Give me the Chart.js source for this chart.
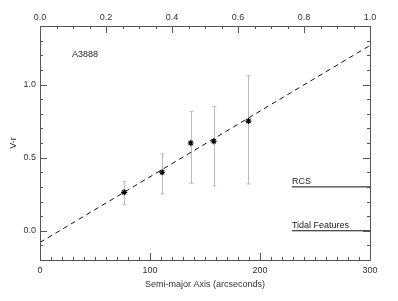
<!DOCTYPE html>
<html>
<head>
<meta charset="utf-8">
<script src="https://cdn.jsdelivr.net/npm/chart.js@4/dist/chart.umd.min.js"></script>
<style>
  html, body { margin: 0; padding: 0; background: #fff; }
  #wrap { width: 398px; height: 301px; }
</style>
</head>
<body>
<div id="wrap"><canvas id="chart"></canvas></div>
<script>
// semi-major axis (arcsec) and V-r colour
const radius = [76.5, 111, 137, 158, 189.5];
const colour = [0.263, 0.40, 0.60, 0.612, 0.75];
const errLow = [0.177, 0.252, 0.325, 0.306, 0.32];
const errHigh = [0.335, 0.526, 0.816, 0.85, 1.06];

// dashed fit line end points
const fitX = [0, 300];
const fitY = [-0.08, 1.267];

// marker lines at the right
const rcsX = [229, 300];
const rcsY = [0.3, 0.3];
const tidalX = [229, 300];
const tidalY = [0, 0];

const bottomTicks = [0, 100, 200, 300];
const topTicks = [0.0, 0.2, 0.4, 0.6, 0.8, 1.0];
const leftTicks = [0.0, 0.5, 1.0];

const pts = (xs, ys) => xs.map((x, i) => ({ x: x, y: ys[i] }));

const axisCol = '#555';
const textCol = '#333';
const FAMILY = '"Liberation Sans", Arial, sans-serif';

// error bars, inner tick marks and the little text labels
const extras = {
  id: 'extras',
  beforeDatasetsDraw(chart) {
    const { ctx } = chart;
    const x = chart.scales.x, y = chart.scales.y;
    ctx.save();
    ctx.strokeStyle = '#bbb';
    ctx.lineWidth = 1;
    radius.forEach((r, i) => {
      const px = Math.round(x.getPixelForValue(r)) + 0.5;
      const y1 = y.getPixelForValue(errLow[i]);
      const y2 = y.getPixelForValue(errHigh[i]);
      ctx.beginPath();
      ctx.moveTo(px, y1); ctx.lineTo(px, y2);
      ctx.moveTo(px - 2, y1); ctx.lineTo(px + 2, y1);
      ctx.moveTo(px - 2, y2); ctx.lineTo(px + 2, y2);
      ctx.stroke();
    });
    ctx.restore();
  },
  afterDraw(chart) {
    const { ctx, chartArea: a } = chart;
    const x = chart.scales.x, x2 = chart.scales.x2, y = chart.scales.y;
    ctx.save();
    ctx.strokeStyle = axisCol;
    ctx.lineWidth = 1;
    ctx.beginPath();
    // box
    ctx.rect(Math.round(a.left) + 0.5, Math.round(a.top) + 0.5,
             Math.round(a.right - a.left), Math.round(a.bottom - a.top));
    // bottom / top ticks
    for (let v = 0; v <= 300; v += 10) {
      const px = Math.round(x.getPixelForValue(v)) + 0.5;
      const len = v % 100 === 0 ? 7 : 3;
      ctx.moveTo(px, a.bottom); ctx.lineTo(px, a.bottom - len);
    }
    for (let k = 0; k <= 20; k++) {
      const v = k * 0.05;
      const px = Math.round(x2.getPixelForValue(v)) + 0.5;
      const len = k % 4 === 0 ? 7 : 3;
      ctx.moveTo(px, a.top); ctx.lineTo(px, a.top + len);
    }
    // left / right ticks
    for (let k = -2; k <= 14; k++) {
      const v = k / 10;
      const py = Math.round(y.getPixelForValue(v)) + 0.5;
      const len = k % 5 === 0 ? 7 : 3;
      ctx.moveTo(a.left, py); ctx.lineTo(a.left + len, py);
      ctx.moveTo(a.right, py); ctx.lineTo(a.right - len, py);
    }
    ctx.stroke();

    ctx.fillStyle = '#222';
    ctx.font = '9px ' + FAMILY;
    ctx.textBaseline = 'alphabetic';
    ctx.textAlign = 'left';
    ctx.fillText('A3888', x.getPixelForValue(29), y.getPixelForValue(1.21) + 3);
    ctx.fillText('RCS', x.getPixelForValue(rcsX[0]), y.getPixelForValue(rcsY[0]) - 3);
    ctx.fillText('Tidal Features', x.getPixelForValue(tidalX[0]), y.getPixelForValue(tidalY[0]) - 3);
    ctx.restore();
  }
};

const fixSize = (w, h) => (scale) => {
  if (w != null) scale.width = w;
  if (h != null) scale.height = h;
};

new Chart(document.getElementById('chart'), {
  type: 'scatter',
  data: {
    datasets: [
      {
        label: 'fit',
        data: pts(fitX, fitY),
        showLine: true,
        borderColor: '#111',
        borderWidth: 1,
        borderDash: [5, 4],
        pointRadius: 0
      },
      {
        label: 'RCS',
        data: pts(rcsX, rcsY),
        showLine: true,
        borderColor: '#111',
        borderWidth: 1,
        pointRadius: 0
      },
      {
        label: 'Tidal Features',
        data: pts(tidalX, tidalY),
        showLine: true,
        borderColor: '#111',
        borderWidth: 1,
        pointRadius: 0
      },
      {
        label: 'V-r',
        data: pts(radius, colour),
        pointStyle: 'star',
        pointRadius: 3,
        borderColor: '#000',
        borderWidth: 1.2,
        backgroundColor: '#000'
      }
    ]
  },
  plugins: [extras],
  options: {
    responsive: true,
    maintainAspectRatio: false,
    animation: false,
    layout: { padding: 0 },
    plugins: { legend: { display: false }, tooltip: { enabled: false } },
    scales: {
      x: {
        type: 'linear', position: 'bottom', min: 0, max: 300,
        afterFit: fixSize(null, 41),
        afterBuildTicks: (s) => { s.ticks = bottomTicks.map(v => ({ value: v })); },
        grid: { display: false, drawTicks: false },
        border: { display: false },
        ticks: { color: textCol, font: { size: 9, family: FAMILY }, padding: 5, maxRotation: 0 },
        title: { display: true, text: 'Semi-major Axis (arcseconds)', color: textCol,
                 font: { size: 9, family: FAMILY }, padding: { top: 0, bottom: 11 } }
      },
      x2: {
        type: 'linear', position: 'top', min: 0, max: 1,
        afterFit: fixSize(null, 26),
        afterBuildTicks: (s) => { s.ticks = topTicks.map(v => ({ value: v })); },
        grid: { display: false, drawTicks: false },
        border: { display: false },
        ticks: { color: textCol, font: { size: 9, family: FAMILY }, padding: 3,
                 callback: (v) => v.toFixed(1) }
      },
      y: {
        type: 'linear', position: 'left', min: -0.2, max: 1.4,
        afterFit: fixSize(40, null),
        afterBuildTicks: (s) => { s.ticks = leftTicks.map(v => ({ value: v })); },
        grid: { display: false, drawTicks: false },
        border: { display: false },
        ticks: { color: textCol, font: { size: 9, family: FAMILY }, padding: 4,
                 callback: (v) => v.toFixed(1) },
        title: { display: true, text: 'V-r', color: textCol,
                 font: { size: 9, family: FAMILY }, padding: { top: 8, bottom: 0 } }
      },
      y2: {
        type: 'linear', position: 'right', min: -0.2, max: 1.4,
        afterFit: fixSize(28, null),
        grid: { display: false, drawTicks: false },
        border: { display: false },
        ticks: { display: false }
      }
    }
  }
});
</script>
</body>
</html>
